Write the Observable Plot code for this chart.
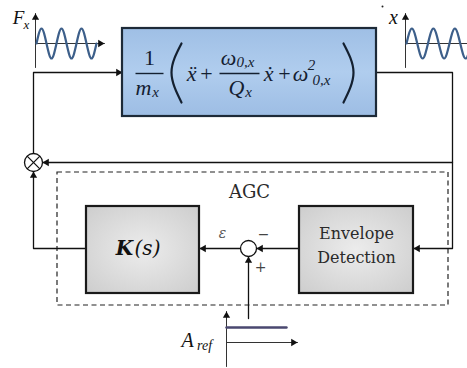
<!DOCTYPE html>
<html>
<head>
<meta charset="utf-8">
<script src="https://cdn.jsdelivr.net/npm/d3@7"></script>
<script src="https://cdn.jsdelivr.net/npm/@observablehq/plot@0.6"></script>
<style>
  body { margin: 0; background: #fff; }
  #chart svg { display: block; }
</style>
</head>
<body>
<div id="chart"></div>
<script>
// Drive loop of a MEMS resonator with automatic gain control (AGC).
// Layout is given in pixel units of the drawing area.
const W = 467, H = 368;

// Blocks
const plantBlock = [{x1: 122, y1: 28, x2: 376, y2: 116}];
const agcBlocks = [
  {name: "K(s)", x1: 86, y1: 206, x2: 199, y2: 293},
  {name: "Envelope Detection", x1: 299, y1: 206, x2: 413, y2: 293}
];
const agcFrame = [{x1: 57, y1: 172, x2: 448, y2: 305}];

// Junctions: multiplier and summing node
const junctions = [
  {name: "mixer", x: 33, y: 162, r: 9},
  {name: "sum", x: 248, y: 248, r: 8}
];

// Signal wires (polylines, arrow at the last point)
const wires = [
  {name: "drive", pts: [[33, 153], [33, 72], [122, 72]]},
  {name: "output", pts: [[376, 72], [452, 72], [452, 248], [413, 248]]},
  {name: "carrier", pts: [[452, 162], [42, 162]]},
  {name: "envelope", pts: [[299, 248], [256, 248]]},
  {name: "error", pts: [[240, 248], [199, 248]]},
  {name: "gain", pts: [[86, 248], [33, 248], [33, 171]]},
  {name: "reference", pts: [[248, 318], [248, 256]]}
];

// Small signal sketches: axes
const signalAxes = [
  {name: "Fx-v", pts: [[35, 67], [35, 13]]},
  {name: "Fx-h", pts: [[35, 43], [104, 43]]},
  {name: "x-v", pts: [[405, 67], [405, 13]]},
  {name: "x-h", pts: [[405, 43], [474, 43]]},
  {name: "Aref-v", pts: [[226, 366], [226, 311]]},
  {name: "Aref-h", pts: [[226, 342], [297, 342]]}
];

// Sine traces sampled every quarter period (normalised amplitude)
const forceSamples = [0, 1, 0, -1, 0, 1, 0, -1, 0, 1, 0, -1, 0];
const dispSamples = [0, 1, 0, -1, 0, 1, 0, -1, 0, 1, 0, -1, 0];
const forceTrace = {x0: 36, period: 20, amp: 15, y0: 43};
const dispTrace = {x0: 406, period: 21.5, amp: 15, y0: 43};

// Reference amplitude step
const refStep = [{x: 226, y: 327}, {x: 286, y: 327}];

// Transfer function text pieces
const eqUpright = [
  {t: "1", x: 149, y: 57}, {t: "+", x: 206, y: 73}, {t: "+", x: 284, y: 73}
];
const eqItalic = [
  {t: "m", x: 143, y: 87}, {t: "ẍ", x: 191, y: 73}, {t: "ω", x: 228, y: 57},
  {t: "Q", x: 236, y: 87}, {t: "ẋ", x: 268, y: 73}, {t: "ω", x: 300, y: 73}
];
const eqScript = [
  {t: "x", x: 155, y: 92}, {t: "0,x", x: 245, y: 62}, {t: "x", x: 248, y: 92},
  {t: "2", x: 311, y: 65}, {t: "0,x", x: 321, y: 80}
];
// large parentheses as arcs through three points
const eqParens = [
  {name: "open", pts: [[181, 43], [171, 72], [181, 102]]},
  {name: "close", pts: [[343, 43], [353, 72], [343, 102]]}
];
const fractionBars = [
  {x1: 135, y1: 73, x2: 163, y2: 73},
  {x1: 219, y1: 73, x2: 259, y2: 73}
];

// Other labels
const mathLabels = [
  {t: "F", x: 18, y: 17, s: 19}, {t: "x", x: 26, y: 24, s: 13},
  {t: "x", x: 393, y: 17, s: 20},
  {t: "A", x: 187, y: 340, s: 20}, {t: "ref", x: 204, y: 345, s: 14}
];
const blockText = [
  {t: "AGC", x: 249, y: 192, s: 18},
  {t: "Envelope", x: 356, y: 233, s: 16},
  {t: "Detection", x: 356, y: 257, s: 16}
];
const errorText = [{t: "ε", x: 222, y: 233}];
const signText = [{t: "−", x: 263, y: 234}, {t: "+", x: 260, y: 267}];
const gainText = [{t: "K", x: 124, y: 248}];
const gainArg = [{t: "(s)", x: 147, y: 248}];
const dotMark = [{x: 382, y: 6}];

// Helpers: flatten polylines into rows, and place arrowheads at line ends
const rows = (list) => list.flatMap((w) => w.pts.map(([x, y]) => ({name: w.name, x, y})));
function heads(list, back) {
  return list.map((w) => {
    const [px, py] = w.pts[w.pts.length - 2];
    const [qx, qy] = w.pts[w.pts.length - 1];
    const L = Math.hypot(qx - px, qy - py);
    const ux = (qx - px) / L, uy = (qy - py) / L;
    return {x: qx - ux * back, y: qy - uy * back, rotate: Math.atan2(ux, -uy) * 180 / Math.PI};
  });
}
const trace = (samples, p) => samples.map((v, i) => ({x: p.x0 + i * p.period / 4, y: p.y0 - p.amp * v}));
const crossArms = junctions.filter((j) => j.name === "mixer").flatMap((j) => {
  const d = j.r * Math.SQRT1_2;
  return [
    {x1: j.x - d, y1: j.y - d, x2: j.x + d, y2: j.y + d},
    {x1: j.x - d, y1: j.y + d, x2: j.x + d, y2: j.y - d}
  ];
});

const ink = "#111";
const serif = "Liberation Serif";
const dserif = "DejaVu Serif";
const eqInk = "#142030";

const plot = Plot.plot({
  width: W,
  height: H,
  margin: 0,
  x: {domain: [0, W], range: [0, W], axis: null},
  y: {domain: [0, H], range: [0, H], axis: null},
  r: {type: "identity"},
  style: {background: "#fff", overflow: "hidden"},
  marks: [
    // AGC frame
    Plot.rect(agcFrame, {x1: "x1", y1: "y1", x2: "x2", y2: "y2", fill: "none", stroke: "#222", strokeWidth: 1.2, strokeDasharray: "5,3.5"}),
    // wires
    Plot.line(rows(wires), {x: "x", y: "y", z: "name", stroke: ink, strokeWidth: 1.3, curve: "linear"}),
    Plot.dot(heads(wires, 4.2), {x: "x", y: "y", rotate: "rotate", symbol: "triangle", r: 2.7, fill: ink, stroke: "none"}),
    // plant block
    Plot.rect(plantBlock, {x1: "x1", y1: "y1", x2: "x2", y2: "y2", fill: "url(#plantFill)", stroke: "#1d2a38", strokeWidth: 2.2}),
    // AGC blocks
    Plot.rect(agcBlocks, {x1: "x1", y1: "y1", x2: "x2", y2: "y2", fill: "url(#agcFill)", stroke: "#1a1a1a", strokeWidth: 2.2}),
    // junctions
    Plot.dot(junctions, {x: "x", y: "y", r: "r", fill: "#fff", stroke: ink, strokeWidth: 1.3}),
    Plot.link(crossArms, {x1: "x1", y1: "y1", x2: "x2", y2: "y2", stroke: ink, strokeWidth: 1.2}),
    // signal sketches
    Plot.line(rows(signalAxes), {x: "x", y: "y", z: "name", stroke: "#333", strokeWidth: 1}),
    Plot.dot(heads(signalAxes, 4.2), {x: "x", y: "y", rotate: "rotate", symbol: "triangle", r: 2.7, fill: "#111", stroke: "none"}),
    Plot.line(trace(forceSamples, forceTrace), {x: "x", y: "y", curve: "natural", stroke: "#3d5f8a", strokeWidth: 2.2}),
    Plot.line(trace(dispSamples, dispTrace), {x: "x", y: "y", curve: "natural", stroke: "#3d5f8a", strokeWidth: 2.2}),
    Plot.line(refStep, {x: "x", y: "y", stroke: "#4a4870", strokeWidth: 2.4}),
    Plot.dot(dotMark, {x: "x", y: "y", r: 1, fill: "#222", stroke: "none"}),
    // transfer function
    Plot.text(eqUpright, {x: "x", y: "y", text: "t", fontFamily: serif, fontSize: 22, fill: eqInk}),
    Plot.text(eqItalic, {x: "x", y: "y", text: "t", fontFamily: serif, fontStyle: "italic", fontSize: 22, fill: eqInk}),
    Plot.text(eqScript, {x: "x", y: "y", text: "t", fontFamily: serif, fontStyle: "italic", fontSize: 15, fill: eqInk}),
    Plot.line(rows(eqParens), {x: "x", y: "y", z: "name", curve: "natural", stroke: eqInk, strokeWidth: 2.2}),
    Plot.link(fractionBars, {x1: "x1", y1: "y1", x2: "x2", y2: "y2", stroke: eqInk, strokeWidth: 1.4}),
    // labels
    Plot.text(mathLabels, {x: "x", y: "y", text: "t", fontSize: "s", fontFamily: serif, fontStyle: "italic", fill: "#111"}),
    Plot.text(blockText, {x: "x", y: "y", text: "t", fontSize: "s", fontFamily: dserif, fill: "#2a2a2a"}),
    Plot.text(errorText, {x: "x", y: "y", text: "t", fontSize: 14, fontFamily: dserif, fontStyle: "italic", fill: "#555"}),
    Plot.text(signText, {x: "x", y: "y", text: "t", fontSize: 14, fontFamily: dserif, fill: "#444"}),
    Plot.text(gainText, {x: "x", y: "y", text: "t", fontSize: 20, fontFamily: dserif, fontStyle: "italic", fontWeight: "bold", fill: "#111"}),
    Plot.text(gainArg, {x: "x", y: "y", text: "t", fontSize: 20, fontFamily: dserif, fontStyle: "italic", fill: "#111"})
  ]
});

// gradient fills for the blocks
const defs = d3.select(plot).insert("defs", ":first-child");
const lg = defs.append("linearGradient").attr("id", "plantFill").attr("x1", 0).attr("y1", 0).attr("x2", 0).attr("y2", 1);
lg.append("stop").attr("offset", "0%").attr("stop-color", "#9fbfe5");
lg.append("stop").attr("offset", "50%").attr("stop-color", "#b0cdee");
lg.append("stop").attr("offset", "100%").attr("stop-color", "#9dbde4");
const rg = defs.append("radialGradient").attr("id", "agcFill").attr("cx", "50%").attr("cy", "50%").attr("r", "70%");
rg.append("stop").attr("offset", "0%").attr("stop-color", "#ececec");
rg.append("stop").attr("offset", "100%").attr("stop-color", "#cdcdcd");

document.getElementById("chart").appendChild(plot);
</script>
</body>
</html>
